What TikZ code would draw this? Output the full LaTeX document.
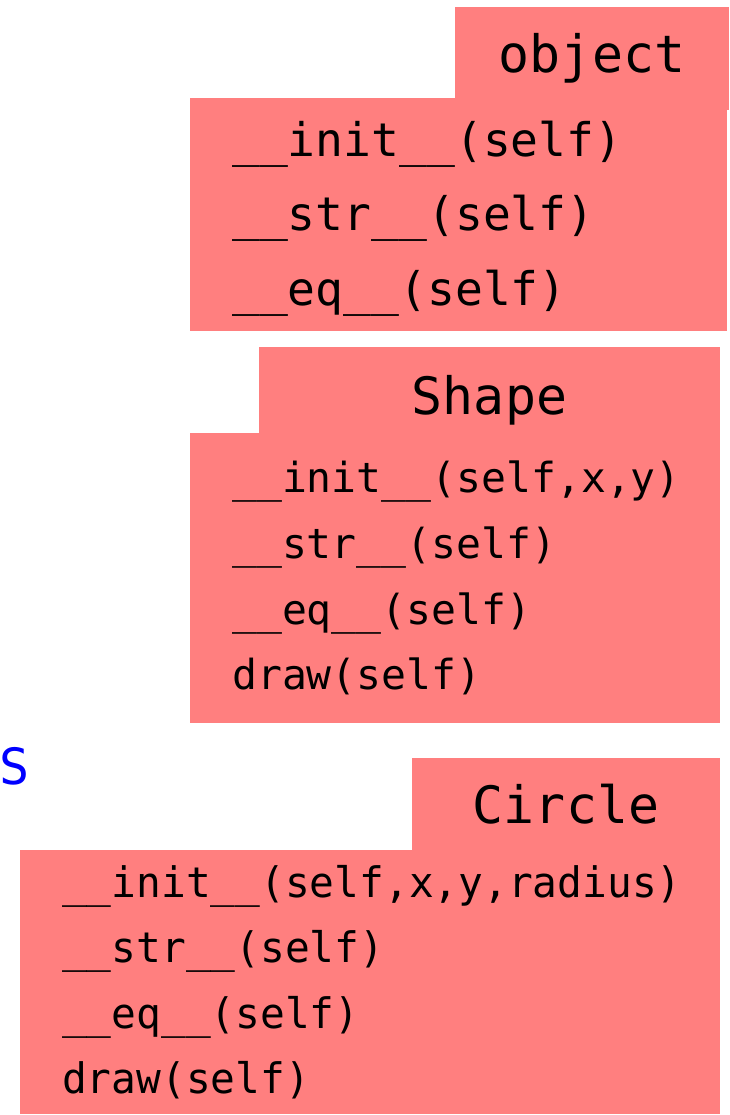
\documentclass[tikz,border=0pt]{standalone}
\usepackage{fontspec}
\setmonofont{DejaVu Sans Mono}
\definecolor{boxfill}{RGB}{255,127,127}
\definecolor{sblue}{RGB}{0,0,255}
\begin{document}
\begin{tikzpicture}[x=1pt,y=-1pt,
  panel/.style={rectangle,fill=boxfill,draw=none,inner sep=0pt,outer sep=0pt,anchor=north west},
  ctitle/.style={anchor=base,inner sep=0pt,font=\fontsize{51.5}{60}\selectfont\ttfamily},
  omethod/.style={anchor=base west,inner sep=0pt,font=\fontsize{46.3}{54}\selectfont\ttfamily},
  smethod/.style={anchor=base west,inner sep=0pt,font=\fontsize{41.4}{50}\selectfont\ttfamily},
  cmethod/.style={anchor=base west,inner sep=0pt,xscale=0.98,font=\fontsize{42}{50}\selectfont\ttfamily}]
\useasboundingbox (0,0) rectangle (729,1115);
% object
\node[panel,minimum width=274pt,minimum height=103pt] (objhead) at (455,7) {};
\node[panel,minimum width=537pt,minimum height=233pt] (objbody) at (190,98) {};
\node[ctitle] (objtitle) at (592,73) {object};
\node[omethod] (objm1) at (232,157) {\_\_init\_\_(self)};
\node[omethod] (objm2) at (232,231) {\_\_str\_\_(self)};
\node[omethod] (objm3) at (232,305) {\_\_eq\_\_(self)};
% Shape
\node[panel,minimum width=461pt,minimum height=90pt] (shphead) at (259,347) {};
\node[panel,minimum width=530pt,minimum height=290pt] (shpbody) at (190,433) {};
\node[ctitle] (shptitle) at (489.5,414) {Shape};
\node[smethod] (shpm1) at (232,492) {\_\_init\_\_(self,x,y)};
\node[smethod] (shpm2) at (232,558) {\_\_str\_\_(self)};
\node[smethod] (shpm3) at (232,624) {\_\_eq\_\_(self)};
\node[smethod] (shpm4) at (232,689) {draw(self)};
% Circle
\node[panel,minimum width=308pt,minimum height=95pt] (cirhead) at (412,758) {};
\node[panel,minimum width=700pt,minimum height=264pt] (cirbody) at (20,850) {};
\node[ctitle] (cirtitle) at (566,823) {Circle};
\node[cmethod] (cirm1) at (62,897) {\_\_init\_\_(self,x,y,radius)};
\node[cmethod] (cirm2) at (62,962) {\_\_str\_\_(self)};
\node[cmethod] (cirm3) at (62,1028) {\_\_eq\_\_(self)};
\node[cmethod] (cirm4) at (62,1093) {draw(self)};
% stray letter
\node[anchor=base west,inner sep=0pt,text=sblue,font=\fontsize{50}{55}\selectfont\ttfamily] (sletter) at (-1,784) {S};
\end{tikzpicture}
\end{document}
